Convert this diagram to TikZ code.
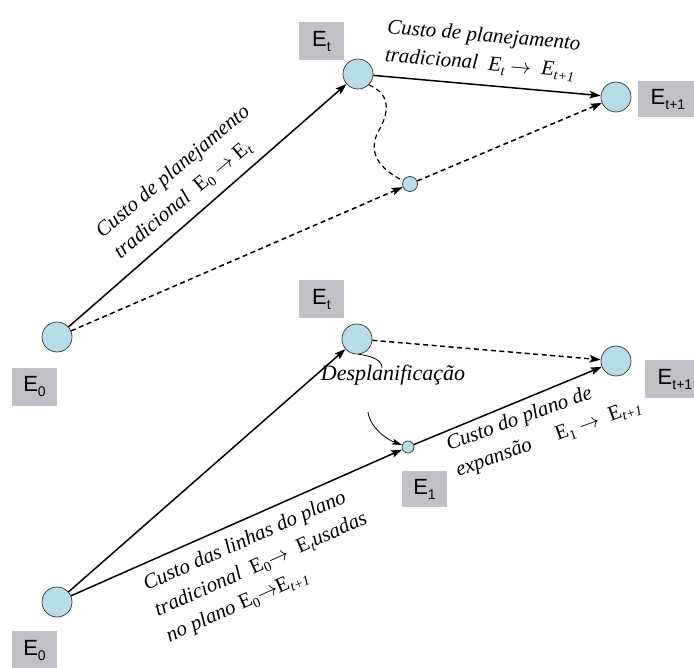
\documentclass[tikz,border=0pt]{standalone}
\usepackage{fontspec}
\setmainfont{Liberation Serif}
\setsansfont{Liberation Sans}
\usetikzlibrary{arrows.meta}
\definecolor{azulclaro}{RGB}{183,221,232}
\definecolor{cinza}{RGB}{192,193,198}
\newcommand{\Esub}[1]{E\raisebox{-4pt}{\fontsize{14}{14}\selectfont #1}}
\newcommand{\Eup}[1]{{\upshape\Esub{#1}}}
\newcommand{\Ebox}[1]{E\raisebox{-5pt}{\fontsize{14}{14}\selectfont #1}}

\begin{document}
\begin{tikzpicture}[x=1pt,y=-1pt]
\tikzstyle{estado}=[draw=black!80,circle,fill=azulclaro,minimum size=30pt,inner sep=0pt,line width=0.7pt]
\tikzstyle{ponto}=[estado,minimum size=15pt]
\tikzstyle{caixa}=[fill=cinza,minimum width=45pt,minimum height=38pt,inner sep=0pt,font=\sffamily\fontsize{22}{22}\selectfont]
\tikzstyle{custo}=[font=\itshape\fontsize{21}{28}\selectfont,align=left,inner sep=0pt]
\tikzstyle{seta}=[-{Stealth[length=11pt,width=7.5pt,inset=2pt]},line width=1.5pt]
\tikzstyle{tracejado}=[dash pattern=on 5pt off 3.5pt]
\tikzstyle{fino}=[line width=0.8pt]
\useasboundingbox (0,0) rectangle (694,668);
\node[estado] (E0a) at (57,337) {};
\node[estado] (Eta) at (358,74) {};
\node[estado] (Et1a) at (616,97) {};
\node[ponto] (sma) at (410,184) {};
\node[caixa] (lE0a) at (34.5,387) {\Ebox{0}};
\node[caixa] (lEta) at (321.5,41) {\Ebox{t}};
\node[caixa,minimum width=60pt,minimum height=36pt] (lEt1a) at (668,99) {\Ebox{t+1}};
\draw[seta] (E0a) -- (Eta);
\draw[seta] (Eta) -- (Et1a);
\draw[seta,tracejado] (E0a) -- (sma);
\draw[seta,tracejado] (sma) -- (Et1a);
\draw[fino,line width=1.2pt,tracejado] (Eta.-45) .. controls (393,95) and (388,115) .. (378,132)
  .. controls (368,152) and (378,168) .. (sma.155);
\node[custo,rotate=40,anchor=west] (c1) at (108,245) {Custo de planejamento\\tradicional \ \Eup{0} $\rightarrow$ \Eup{\itshape t}};
\node[custo,rotate=-5,anchor=west] (c2) at (386,42) {Custo de planejamento\\tradicional \ \Esub{t} $\rightarrow$ \ \Esub{t+1}};
\node[estado] (E0b) at (57,602) {};
\node[estado] (Etb) at (357,339) {};
\node[estado] (Et1b) at (616,361) {};
\node[ponto,minimum size=12pt] (E1b) at (408,447) {};
\node[caixa] (lE0b) at (34.5,650) {\Ebox{0}};
\node[caixa] (lEtb) at (321.5,299) {\Ebox{t}};
\node[caixa,minimum width=60pt] (lEt1b) at (675,379) {\Ebox{t+1}};
\node[caixa,minimum height=36pt] (lE1b) at (424.5,489) {\Ebox{1}};
\draw[seta] (E0b) -- (Etb);
\draw[seta] (E0b) -- (E1b);
\draw[seta] (E1b) -- (Et1b);
\draw[seta,tracejado] (Etb) -- (Et1b);
\node[custo,font=\itshape\fontsize{22}{26}\selectfont] (desp) at (393,375) {Desplanifica\c{c}\~ao};
\coordinate (d1) at (382,368);
\coordinate (d2) at (368,412);
\draw[fino] (Etb.-85) .. controls (372,356) and (382,360) .. (d1);
\draw[fino,-{Stealth[length=10pt,width=6pt,inset=2pt]}] (d2) .. controls (370,428) and (388,440) .. (E1b);
\node[custo,rotate=20,anchor=west] (c3) at (452,459) {Custo do plano de\\expans\~ao \quad\Eup{1} $\rightarrow$ \ \Eup{\itshape t+1}};
\node[custo,rotate=24,anchor=west] (c4) at (156,612) {Custo das linhas do plano\\tradicional \ \Eup{0}$\rightarrow$ \ \Eup{\itshape t}usadas\\no plano \Eup{0}$\rightarrow$\Eup{\itshape t+1}};
\end{tikzpicture}
\end{document}
